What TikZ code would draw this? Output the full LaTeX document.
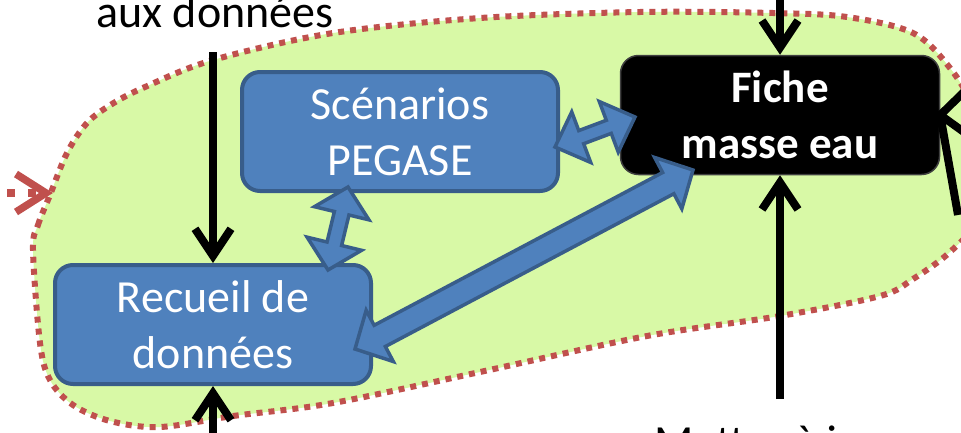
\documentclass[tikz,border=0pt]{standalone}
\usepackage{fontspec}
\setmainfont{Carlito}
\usetikzlibrary{arrows.meta,calc}
\definecolor{blobgreen}{RGB}{216,249,166}
\definecolor{dotred}{RGB}{192,80,77}
\definecolor{boxblue}{RGB}{79,129,189}
\definecolor{boxedge}{RGB}{56,93,138}
\newcommand{\blockarr}[5]{%
 \path let \p1=(#1), \p2=(#2), \n1={atan2(\y2-\y1,\x2-\x1)}, \n2={veclen(\x2-\x1,\y2-\y1)} in \pgfextra{\xdef\baang{\n1}\xdef\balen{\n2}};
 \draw[bluearrow, shift={(#1)}, rotate=\baang]
 (0pt,0pt) -- (#5pt,#4pt) -- (#5pt,#3pt) -- ({\balen-#5pt},#3pt) -- ({\balen-#5pt},#4pt) -- (\balen,0pt) -- ({\balen-#5pt},-#4pt) -- ({\balen-#5pt},-#3pt) -- (#5pt,-#3pt) -- (#5pt,-#4pt) -- cycle;
}
\tikzset{
 bluebox/.style={draw=boxedge, fill=boxblue, line width=4pt, rounded corners=18pt, minimum width=316pt, minimum height=119pt, text=white, align=center, font=\fontsize{46}{56}\selectfont, inner sep=0pt},
 blackbox/.style={draw=black!75, fill=black, line width=1.5pt, rounded corners=18pt, minimum width=319pt, minimum height=119pt, text=white, align=center, font=\bfseries\fontsize{45}{56}\selectfont, inner sep=0pt},
 blackarrow/.style={line width=8pt, -{Straight Barb[length=27pt,width=36pt]}},
 bluearrow/.style={draw=boxedge, fill=boxblue, line width=3.5pt, line join=miter},
 blobfill/.style={fill=blobgreen},
 blobline/.style={draw=dotred, line width=6pt, dash pattern=on 6pt off 6pt},
 outtext/.style={font=\fontsize{46}{56}\selectfont, inner sep=0pt, anchor=base},
}
\begin{document}
\begin{tikzpicture}[x=1pt,y=-1pt]
\useasboundingbox (0,0) rectangle (961,432);
% blob
\path[blobfill] plot[smooth cycle, tension=0.55] coordinates {(33,250) (38,225) (50,195) (67,153) (87,123) (112,104) (145,87) (213,60) (333,33) (480,18) (640,12) (773,13) (847,17) (913,33) (950,68) (975,110) (990,160) (982,215) (950,252) (913,279) (880,296) (780,316) (647,336) (480,372) (333,403) (233,416) (160,427) (110,421) (73,405) (50,380) (40,343)};
\path[blobline] plot[smooth cycle, tension=0.55] coordinates {(33,250) (38,225) (50,195) (67,153) (87,123) (112,104) (145,87) (213,60) (333,33) (480,18) (640,12) (773,13) (847,17) (913,33) (950,68) (975,110) (990,160) (982,215) (950,252) (913,279) (880,296) (780,316) (647,336) (480,372) (333,403) (233,416) (160,427) (110,421) (73,405) (50,380) (40,343)};
% incoming red arrow
\coordinate (redS) at (-14,193);
\coordinate (redT) at (53,193);
\draw[draw=dotred, line width=7.5pt, dash pattern=on 8pt off 13pt, -{Straight Barb[length=30pt,width=38pt]}] (redS) -- (redT);
% boxes
\node[bluebox] (scen) at (400,131.5) {Scénarios\\PEGASE};
\node[bluebox] (recueil) at (213,324.5) {Recueil de\\données};
\node[blackbox] (fiche) at (780,115) {Fiche\\masse eau};
% black arrows
\coordinate (tA) at (780,-5);
\coordinate (bA) at (780,399);
\coordinate (lA) at (213,52);
\coordinate (lB) at (213,440);
\draw[blackarrow] (tA) -- (fiche.north);
\draw[blackarrow] (bA) -- (fiche.south);
\draw[blackarrow] (lA) -- (recueil.north);
\draw[blackarrow] (lB) -- (recueil.south);
\coordinate (rEnd) at (958,215);
\coordinate (rU) at (968,88);
\coordinate (rD) at (968,135);
\draw[line width=8pt] (fiche.east) -- (rEnd);
\draw[line width=8pt, line cap=round, line join=round] (rU) -- (fiche.east) -- (rD);
% blue double arrows
\coordinate (s1) at (555,147);
\coordinate (f1) at (635,117);
\coordinate (s2) at (348,187);
\coordinate (r2) at (328,270);
\coordinate (r3) at (355,349);
\coordinate (f3) at (693,170);
\blockarr{s1}{f1}{7}{27}{28}
\blockarr{s2}{r2}{7.5}{28}{27}
\blockarr{r3}{f3}{12}{29}{28}
% outside texts
\node[outtext] (topt) at (215,27) {aux données};
\node[outtext] (bott) at (778,457) {Mettre à jour};
\end{tikzpicture}
\end{document}
